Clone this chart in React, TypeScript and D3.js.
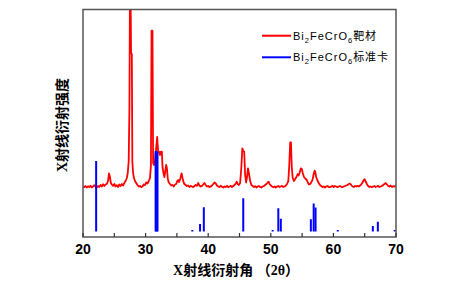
import React from "react";
import * as d3 from "d3";

// Red: measured XRD pattern of the Bi2FeCrO6 target, [2θ, intensity]
const redAngles: number[] = [
  20.0, 20.2, 20.4, 20.6, 20.8, 21.0, 21.2, 21.4, 21.6, 21.8, 22.0, 22.2, 22.4, 22.6, 22.8, 23.0, 23.2, 23.4, 23.6, 23.8,
  24.0, 24.15, 24.3, 24.45, 24.6, 24.8, 25.0, 25.2, 25.4, 25.6, 25.8, 26.0, 26.2, 26.4, 26.6, 26.8, 27.0, 27.15, 27.3, 27.42,
  27.5, 27.6, 27.68, 27.8, 27.88, 28.0, 28.15, 28.3, 28.5, 28.7, 28.9, 29.1, 29.3, 29.5, 29.7, 29.9, 30.1, 30.3, 30.5, 30.7,
  30.85, 30.95, 31.1, 31.2, 31.35, 31.5, 31.7, 31.85, 32.0, 32.15, 32.3, 32.45, 32.6, 32.7, 32.85, 33.0, 33.15, 33.28, 33.4, 33.55,
  33.7, 33.9, 34.1, 34.3, 34.5, 34.7, 34.9, 35.05, 35.2, 35.35, 35.55, 35.75, 35.9, 36.05, 36.2, 36.4, 36.6, 36.8, 37.0, 37.2,
  37.4, 37.6, 37.8, 38.0, 38.2, 38.4, 38.6, 38.8, 39.0, 39.2, 39.4, 39.6, 39.8, 40.0, 40.2, 40.4, 40.6, 40.8, 41.0, 41.2,
  41.4, 41.6, 41.8, 42.0, 42.2, 42.4, 42.6, 42.8, 43.0, 43.2, 43.4, 43.6, 43.8, 44.0, 44.2, 44.4, 44.55, 44.7, 44.9, 45.1,
  45.3, 45.45, 45.6, 45.75, 45.9, 46.05, 46.2, 46.35, 46.5, 46.7, 46.9, 47.1, 47.3, 47.5, 47.7, 47.9, 48.1, 48.3, 48.5, 48.7,
  48.9, 49.1, 49.3, 49.5, 49.65, 49.8, 50.0, 50.2, 50.4, 50.6, 50.8, 51.0, 51.2, 51.4, 51.6, 51.8, 52.0, 52.2, 52.4, 52.6,
  52.8, 52.95, 53.1, 53.22, 53.35, 53.5, 53.7, 53.9, 54.1, 54.3, 54.45, 54.6, 54.8, 54.95, 55.1, 55.3, 55.5, 55.75, 55.95, 56.1,
  56.3, 56.5, 56.7, 56.85, 57.0, 57.1, 57.25, 57.45, 57.65, 57.85, 58.05, 58.25, 58.45, 58.65, 58.85, 59.05, 59.25, 59.45, 59.65, 59.85,
  60.05, 60.25, 60.45, 60.65, 60.85, 61.05, 61.25, 61.45, 61.65, 61.85, 62.05, 62.25, 62.45, 62.65, 62.85, 63.05, 63.25, 63.45, 63.65, 63.85,
  64.05, 64.25, 64.45, 64.65, 64.85, 65.0, 65.15, 65.35, 65.55, 65.75, 65.95, 66.15, 66.35, 66.55, 66.75, 66.95, 67.15, 67.35, 67.55, 67.75,
  67.95, 68.15, 68.35, 68.55, 68.75, 68.95, 69.15, 69.35, 69.55, 69.75, 70.0,
];
const redIntensity: number[] = [
  505, 498, 510, 495, 507, 500, 512, 496, 505, 518, 502, 495, 510, 500, 520, 505, 528, 510, 525, 530,
  560, 637, 600, 540, 525, 512, 530, 505, 518, 500, 525, 510, 530, 515, 540, 560, 590, 640, 760, 1300,
  2450, 2450, 1840, 1830, 760, 640, 590, 560, 540, 520, 505, 510, 498, 505, 525, 520, 545, 535, 560, 590,
  714, 2063, 2063, 740, 720, 760, 900, 1000, 853, 853, 820, 853, 853, 700, 640, 600, 660, 720, 690, 580,
  545, 530, 515, 520, 505, 525, 530, 560, 570, 550, 585, 637, 590, 550, 530, 520, 510, 515, 500, 512,
  505, 498, 510, 520, 512, 540, 515, 505, 510, 525, 540, 520, 505, 510, 498, 505, 515, 530, 545, 535,
  515, 505, 500, 512, 503, 495, 505, 500, 510, 498, 505, 512, 500, 510, 520, 535, 553, 530, 520, 540,
  700, 887, 860, 853, 620, 545, 600, 687, 640, 560, 520, 510, 500, 508, 495, 505, 510, 500, 495, 505,
  510, 520, 530, 545, 553, 530, 515, 505, 498, 505, 495, 505, 510, 500, 505, 512, 500, 505, 515, 530,
  560, 720, 947, 947, 700, 590, 560, 580, 600, 630, 615, 640, 687, 680, 640, 600, 585, 570, 540, 525,
  530, 550, 580, 630, 663, 650, 600, 565, 540, 520, 510, 500, 505, 495, 505, 510, 500, 498, 505, 512,
  500, 510, 505, 498, 505, 510, 502, 498, 505, 510, 515, 520, 530, 535, 520, 505, 500, 510, 505, 512,
  505, 515, 525, 545, 570, 577, 555, 530, 510, 500, 505, 498, 505, 510, 500, 505, 512, 500, 505, 510,
  520, 530, 540, 525, 510, 505, 515, 500, 508, 505, 510,
];

// Blue: standard card sticks, [2θ, relative intensity]
const blueAngles: number[] = [22.1, 31.6, 31.75, 31.9, 37.46, 38.7, 39.3, 45.6, 50.3, 51.2, 51.6, 56.4, 56.85, 57.15, 60.7, 66.3, 67.1, 69.8];
const blueIntensity: number[] = [87.6, 100, 100, 98.8, 1.9, 9.3, 30, 41.2, 1.9, 28.8, 15.9, 15.2, 34.8, 29.8, 1.9, 6.8, 12, 1.9];

const xTickLabels: number[] = [20, 30, 40, 50, 60, 70];
const xMinorTicks: number[] = [25, 35, 45, 55, 65];

const W = 463, H = 293;
const L = 83, R = 396, T = 9.5, B = 237;

export default function App() {
  const x = d3.scaleLinear().domain([20, 70]).range([L, R]);
  const yRed = d3.scaleLinear().domain([0, 2275]).range([B, T]);
  const yBlue = d3.scaleLinear().domain([0, 100]).range([231.5, 151]);

  const redData: [number, number][] = redAngles.map((a, i) => [a, redIntensity[i]]);
  const line = d3
    .line<[number, number]>()
    .x((d) => x(d[0]))
    .y((d) => yRed(d[1]));

  const allTicks = [...xTickLabels, ...xMinorTicks];
  const legendFont = "Arial, 'Liberation Sans', 'Noto Sans CJK SC', sans-serif";
  const titleFont = "'Times New Roman', 'Liberation Serif', 'Noto Sans CJK SC', serif";

  return (
    <svg
      width={W}
      height={H}
      style={{ position: "absolute", left: 0, top: 0, background: "#fff" }}
      xmlns="http://www.w3.org/2000/svg"
    >
      <defs>
        <clipPath id="plotClip">
          <rect x={L} y={T} width={R - L} height={B - T} />
        </clipPath>
      </defs>
      <rect x={0} y={0} width={W} height={H} fill="#fff" />

      <g clipPath="url(#plotClip)">
        <path d={line(redData) || ""} fill="none" stroke="#ff0000" strokeWidth={1.8} strokeLinejoin="round" />
        {blueAngles.map((a, i) => (
          <line
            key={i}
            x1={x(a)}
            x2={x(a)}
            y1={yBlue(0)}
            y2={yBlue(blueIntensity[i])}
            stroke="#0000ff"
            strokeWidth={2}
          />
        ))}
      </g>

      {/* frame */}
      <rect x={L} y={T} width={R - L} height={B - T} fill="none" stroke="#555" strokeWidth={1.5} />

      {/* ticks */}
      {allTicks.map((t) => (
        <line key={t} x1={x(t)} x2={x(t)} y1={B} y2={B - 4} stroke="#333" strokeWidth={1.2} />
      ))}
      {xTickLabels.map((t) => (
        <text
          key={t}
          x={x(t)}
          y={254}
          textAnchor="middle"
          fontFamily={legendFont}
          fontWeight="bold"
          fontSize={14}
          fill="#000"
        >
          {t}
        </text>
      ))}

      {/* axis titles */}
      <text
        x={236}
        y={275}
        textAnchor="middle"
        fontFamily={titleFont}
        fontWeight="bold"
        fontSize={14}
        fill="#000"
      >
        X射线衍射角 （2θ）
      </text>
      <text
        transform="translate(67,125) rotate(-90)"
        textAnchor="middle"
        fontFamily={titleFont}
        fontWeight="bold"
        fontSize={14}
        fill="#000"
      >
        X射线衍射强度
      </text>

      {/* legend */}
      <line x1={262} x2={291} y1={35.7} y2={35.7} stroke="#ff0000" strokeWidth={2} />
      <text x={293} y={39.5} fontFamily={legendFont} fontSize={11} letterSpacing={1} fill="#000">
        Bi<tspan dy={3} fontSize={7.5}>2</tspan>
        <tspan dy={-3}>FeCrO</tspan>
        <tspan dy={3} fontSize={7.5}>6</tspan>
        <tspan dy={-3}>靶材</tspan>
      </text>
      <line x1={262} x2={291} y1={57.3} y2={57.3} stroke="#0000ff" strokeWidth={2} />
      <text x={293} y={61.1} fontFamily={legendFont} fontSize={11} letterSpacing={1} fill="#000">
        Bi<tspan dy={3} fontSize={7.5}>2</tspan>
        <tspan dy={-3}>FeCrO</tspan>
        <tspan dy={3} fontSize={7.5}>6</tspan>
        <tspan dy={-3}>标准卡</tspan>
      </text>
    </svg>
  );
}
